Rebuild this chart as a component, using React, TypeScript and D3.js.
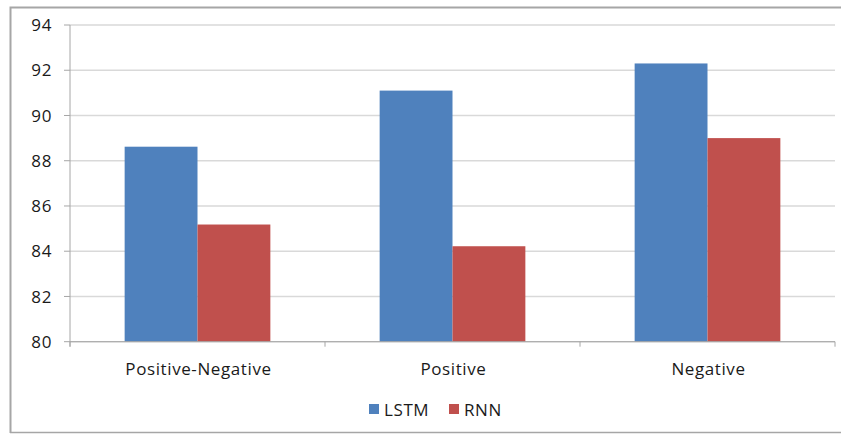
import React from "react";
import * as d3 from "d3";

const categories = ["Positive-Negative", "Positive", "Negative"];
const seriesNames = ["LSTM", "RNN"];
const lstmValues = [88.62, 91.1, 92.3];
const rnnValues = [85.18, 84.22, 89.0];
const yTicks = [80, 82, 84, 86, 88, 90, 92, 94];
const colors = ["#4F81BD", "#C0504D"];

const W = 841;
const H = 434;
const left = 70;
const right = 835;
const top = 25;
const bottom = 341.7;
const font = "'Open Sans', sans-serif";
const ls = 0.6;

export default function App() {
  const x = d3.scaleBand<string>().domain(categories).range([left, right]).paddingInner(0).paddingOuter(0);
  const y = d3.scaleLinear().domain([80, 94]).range([bottom, top]);
  const bw = x.bandwidth() / 3.5;
  const x1 = d3.scaleBand<string>().domain(seriesNames).range([0.75 * bw, 2.75 * bw]);
  const data = [lstmValues, rnnValues];
  const boundaries = [...categories.map((c) => x(c) as number), right];
  return (
    <svg width={W} height={H} style={{ position: "absolute", left: 0, top: 0 }}>
      <rect x={0} y={0} width={W} height={H} fill="#fff" />
      <path d={`M10.5,433 V7.5 H841`} fill="none" stroke="#A6A6A6" strokeWidth={2} />
      <line x1={10} x2={841} y1={432.5} y2={432.5} stroke="#A6A6A6" strokeWidth={1.5} />
      {yTicks.map((t) => (
        <g key={t}>
          <line x1={left} x2={right} y1={y(t)} y2={y(t)} stroke="#D9D9D9" strokeWidth={1.5} />
          <line x1={left - 6} x2={left} y1={y(t)} y2={y(t)} stroke="#A6A6A6" strokeWidth={1} />
          <text x={52} y={y(t)} dy="0.36em" textAnchor="end" fontFamily={font} fontSize={17} letterSpacing={ls} fill="#1a1a1a">
            {t}
          </text>
        </g>
      ))}
      {categories.map((c, i) =>
        data.map((vals, s) => (
          <rect
            key={c + s}
            x={(x(c) as number) + (x1(seriesNames[s]) as number)}
            y={y(vals[i])}
            width={x1.bandwidth()}
            height={bottom - y(vals[i])}
            fill={colors[s]}
          />
        ))
      )}
      <line x1={left} x2={left} y1={top} y2={bottom + 5} stroke="#A6A6A6" strokeWidth={1} />
      <line x1={left} x2={right} y1={bottom} y2={bottom} stroke="#A6A6A6" strokeWidth={1} />
      {boundaries.map((b, i) => (
        <line key={i} x1={b} x2={b} y1={bottom} y2={bottom + 5} stroke="#A6A6A6" strokeWidth={1} />
      ))}
      {categories.map((c) => (
        <text
          key={c}
          x={(x(c) as number) + x.bandwidth() / 2 + 1}
          y={374.5}
          textAnchor="middle"
          fontFamily={font}
          fontSize={17}
          letterSpacing={ls}
          fill="#1a1a1a"
        >
          {c}
        </text>
      ))}
      {seriesNames.map((n, i) => {
        const lx = [369, 449][i];
        return (
          <g key={n}>
            <rect x={lx} y={404} width={10} height={10} fill={colors[i]} />
            <text x={lx + 15} y={415.5} fontFamily={font} fontSize={17} letterSpacing={ls} fill="#1a1a1a">
              {n}
            </text>
          </g>
        );
      })}
    </svg>
  );
}
